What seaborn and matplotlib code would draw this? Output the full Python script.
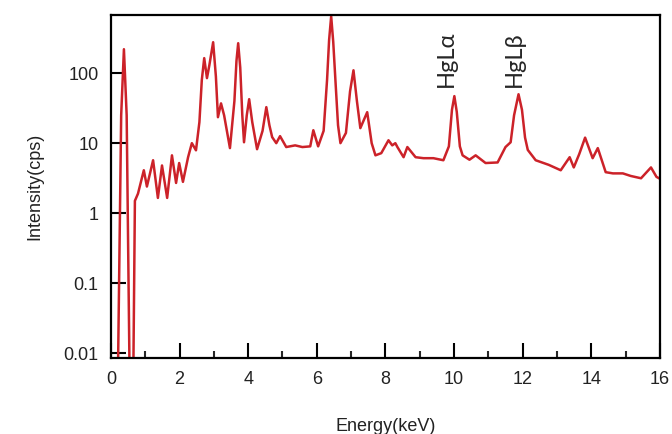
import matplotlib
matplotlib.use("Agg")
import matplotlib.pyplot as plt
import seaborn as sns
import pandas as pd
from matplotlib.ticker import MultipleLocator, NullLocator

# spectrum (energy in keV, intensity in cps)
energy = [0.20, 0.30, 0.38, 0.46, 0.55, 0.65, 0.70, 0.79, 0.96, 1.05,
          1.23, 1.37, 1.49, 1.64, 1.78, 1.90, 1.99, 2.10, 2.25, 2.36,
          2.48, 2.58, 2.65, 2.72, 2.80, 2.87, 2.98, 3.06, 3.12, 3.21,
          3.30, 3.47, 3.60, 3.66, 3.71, 3.77, 3.83, 3.88, 3.96, 4.03,
          4.12, 4.26, 4.42, 4.53, 4.62, 4.70, 4.82, 4.93, 5.11, 5.37,
          5.58, 5.81, 5.90, 6.04, 6.20, 6.30, 6.36, 6.42, 6.48, 6.55,
          6.62, 6.69, 6.85, 6.97, 7.07, 7.17, 7.27, 7.47, 7.60, 7.71,
          7.88, 8.09, 8.20, 8.29, 8.35, 8.53, 8.64, 8.88, 9.11, 9.40,
          9.69, 9.85, 9.94, 10.01, 10.08, 10.17, 10.25, 10.45, 10.63, 10.92,
          11.27, 11.50, 11.65, 11.75, 11.88, 11.98, 12.07, 12.15, 12.38, 12.76,
          13.11, 13.37, 13.49, 13.65, 13.82, 14.04, 14.19, 14.42, 14.63, 14.92,
          15.15, 15.45, 15.74, 15.90, 16.00]
intensity = [0.003, 25, 220, 25, 0.003, 0.003, 1.5, 1.9, 4.1, 2.4,
             5.7, 1.65, 4.8, 1.65, 6.7, 2.7, 5.2, 2.8, 6.3, 10,
             7.9, 20, 80, 164, 85, 130, 277, 90, 23.5, 37,
             25, 8.5, 40, 150, 268, 120, 25, 10.3, 25, 42.5,
             20, 8.2, 15, 32.7, 18, 12.2, 10, 12.6, 8.8, 9.3,
             8.8, 9.0, 15.3, 9.0, 15, 80, 300, 650, 280, 70,
             18, 10, 14, 55, 110, 40, 16.4, 27.7, 10, 6.7,
             7.2, 11, 9.3, 10, 8.8, 6.3, 8.8, 6.3, 6.1, 6.1,
             5.7, 9, 30, 47, 28, 9, 6.7, 5.8, 6.7, 5.2,
             5.3, 8.8, 10.3, 25, 50, 30, 12, 8.0, 5.7, 4.9,
             4.1, 6.3, 4.5, 7, 12, 6.1, 8.5, 3.85, 3.7, 3.7,
             3.4, 3.15, 4.5, 3.3, 3.1]

ytick_vals = [0.01, 0.1, 1, 10, 100]
ytick_labels = ["0.01", "0.1", "1", "10", "100"]
xtick_vals = [0, 2, 4, 6, 8, 10, 12, 14, 16]

peak_names = ["HgL\u03b1", "HgL\u03b2"]
peak_x = [9.78, 11.75]
peak_y = [63, 63]

df = pd.DataFrame({"energy": energy, "intensity": intensity})

sns.set_theme(style="ticks")
plt.rcParams["font.family"] = ["Liberation Sans", "DejaVu Sans"]

fig = plt.figure(figsize=(6.72, 4.34), dpi=100)
ax = fig.add_axes([0.165, 0.175, 0.817, 0.79])

sns.lineplot(data=df, x="energy", y="intensity", ax=ax, color="#cc2229",
             linewidth=1.8, sort=False)

ax.set_yscale("log")
ax.set_xlim(0, 16)
ax.set_ylim(0.0085, 674)

ax.set_yticks(ytick_vals, labels=ytick_labels)
ax.yaxis.set_minor_locator(NullLocator())
ax.set_xticks(xtick_vals, labels=[str(v) for v in xtick_vals])
ax.xaxis.set_minor_locator(MultipleLocator(1))

ax.tick_params(axis="both", which="major", direction="in", length=11,
               width=1.5, labelsize=13, color="black", labelcolor="#222222")
ax.tick_params(axis="x", which="minor", direction="in", length=5, width=1.5)
ax.tick_params(axis="y", which="major", pad=9)
ax.tick_params(axis="x", which="major", pad=9)

for side in ["top", "right", "left", "bottom"]:
    ax.spines[side].set_visible(True)
    ax.spines[side].set_linewidth(1.6)
    ax.spines[side].set_color("black")

ax.set_xlabel("Energy(keV)", fontsize=13, labelpad=22, color="#222222")
ax.set_ylabel("Intensity(cps)", fontsize=13, labelpad=14, color="#222222")

for name, px, py in zip(peak_names, peak_x, peak_y):
    ax.text(px, py, name, rotation=90, ha="center", va="bottom",
            fontsize=17, family=["Lato", "DejaVu Sans"])

fig.savefig("out.png", dpi=100)
